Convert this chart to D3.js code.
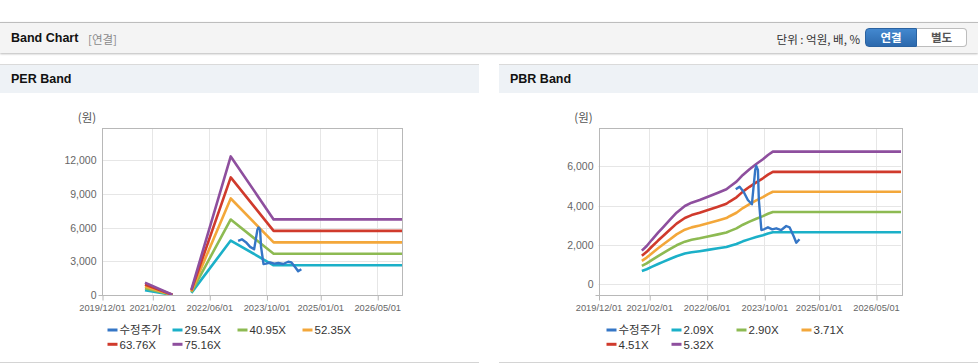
<!DOCTYPE html>
<html>
<head>
<meta charset="utf-8">
<script src="https://d3js.org/d3.v7.min.js"></script>
<style>
body { margin: 0; background: #fff; font-family: "Liberation Sans", Arial, "Noto Sans CJK KR", sans-serif; }
#page { position: relative; width: 978px; height: 364px; overflow: hidden; }
.topbar {
    position: absolute; left: 0; top: 22px; width: 978px; height: 30px;
    border-top: 1px solid #bdbdbd; background: #f4f4f4;
    box-shadow: 0 1px 2px rgba(0,0,0,0.28);
}
.topbar .title { position: absolute; left: 11px; top: 8px; font-size: 12.5px; font-weight: bold; color: #111; }
.topbar .sub { position: absolute; left: 88px; top: 8px; font-size: 11.5px; color: #8a8a8a; font-family: "Noto Sans CJK KR", sans-serif; line-height: 16px; }
.topbar .unit { position: absolute; right: 118px; top: 8px; font-size: 11.5px; color: #333; font-family: "Noto Sans CJK KR", sans-serif; line-height: 16px; }
.btn {
    position: absolute; top: 5px; height: 19px; width: 52px; box-sizing: border-box;
    font-size: 11.5px; font-weight: bold; text-align: center; line-height: 17px;
    font-family: "Noto Sans CJK KR", sans-serif;
}
.btn.on { left: 865px; background: linear-gradient(#4388cf, #2c69ad); color: #fff; border: 1px solid #2a62a0; border-radius: 4px 0 0 4px; }
.btn.off { left: 917px; width: 50px; background: #fff; color: #555; border: 1px solid #bdbdbd; border-left: none; border-radius: 0 4px 4px 0; }
.panel { position: absolute; top: 64px; height: 298px; border-bottom: 1px solid #d4d4d4; }
.panel .head { height: 28px; border-top: 1px solid #dadada; background: #eef2f6; position: relative; }
.panel .head span { position: absolute; left: 11px; top: 7px; font-size: 12.5px; font-weight: bold; color: #111; }
svg { position: absolute; left: 0; top: 0; }
</style>
</head>
<body>
<div id="page">
  <div class="topbar">
    <span class="title">Band Chart</span>
    <span class="sub">[연결]</span>
    <span class="unit">단위 : 억원, 배, %</span>
    <div class="btn on">연결</div>
    <div class="btn off">별도</div>
  </div>
  <div class="panel" style="left:0;width:479px"><div class="head"><span>PER Band</span></div></div>
  <div class="panel" style="left:499px;width:479px"><div class="head"><span>PBR Band</span></div></div>
  <svg id="chart" width="978" height="364"></svg>
</div>
<script>
// ---- data ----
const xTickLabels = ["2019/12/01", "2021/02/01", "2022/06/01", "2023/10/01", "2025/01/01", "2026/05/01"];
const xDomain = ["2019/12/01", "2026/11/28"];
const priceName = "수정주가";

const perMultiples = [29.54, 40.95, 52.35, 63.76, 75.16];
const pbrMultiples = [2.09, 2.90, 3.71, 4.51, 5.32];

// EPS (원) per date; null = negative earnings, no band
const perDates = ["2020/12/01", "2021/07/22", "2021/10/01", "2021/12/31", "2022/12/01", "2023/12/01", "2026/11/28"];
const perEps = [14.6, 0.3, null, 6.5, 164.3, 89.6, 89.6];

// BPS (원) per date
const pbrDates = ["2020/12/01", "2021/01/11", "2021/02/22", "2021/04/17", "2021/05/29", "2021/07/25", "2021/09/20",
    "2021/11/29", "2022/01/25", "2022/04/03", "2022/06/12", "2022/09/05", "2022/11/15", "2022/12/12", "2023/02/08",
    "2023/04/03", "2023/05/29", "2023/07/25", "2023/09/19", "2023/11/01", "2023/12/12", "2026/11/28"];
const pbrBps = [322, 366, 423, 493, 545, 615, 684, 748, 780, 806, 837, 875, 908, 933, 981, 1045, 1099, 1150, 1195,
    1236, 1268, 1268];

// adjusted share price
const priceDates = ["2023/02/02", "2023/03/06", "2023/04/09", "2023/05/15", "2023/06/18", "2023/07/16", "2023/07/25",
    "2023/08/08", "2023/08/16", "2023/09/06", "2023/09/28", "2023/11/01", "2023/12/07", "2024/01/10", "2024/02/21",
    "2024/04/03", "2024/05/01", "2024/06/04", "2024/06/27", "2024/07/24"];
const priceValues = [4830, 4963, 4708, 4286, 4068, 5812, 6015, 5812, 4286, 2760, 2797, 2898, 2797, 2847, 2760,
    2964, 2898, 2456, 2115, 2288];

const perYTicks = [0, 3000, 6000, 9000, 12000];
const pbrYTicks = [0, 2000, 4000, 6000];

const colors = ["#3576c6", "#1bb0c8", "#8dba52", "#f3a73a", "#d03a2c", "#8e4f9e"];

const parse = d3.timeParse("%Y/%m/%d");
const svg = d3.select("#chart");

function drawBand(opt) {
    const x = d3.scaleTime().domain(xDomain.map(parse)).range([opt.left, opt.right]);
    const y = d3.scaleLinear().domain(opt.yDomain).range([opt.bottom, opt.top]);
    const g = svg.append("g");
    const crisp = v => Math.round(v) + 0.5;

    // grid
    g.append("g").selectAll("line").data(opt.yTicks).join("line")
        .attr("x1", opt.left).attr("x2", opt.right)
        .attr("y1", d => crisp(y(d))).attr("y2", d => crisp(y(d)))
        .attr("stroke", "#e6e6e6");
    g.append("g").selectAll("line").data(xTickLabels).join("line")
        .attr("x1", d => crisp(x(parse(d)))).attr("x2", d => crisp(x(parse(d))))
        .attr("y1", opt.top).attr("y2", opt.bottom)
        .attr("stroke", "#e6e6e6");

    // axes
    const yAxis = d3.axisLeft(y).tickValues(opt.yTicks).tickSize(0).tickPadding(6).tickFormat(d3.format(","));
    const ya = g.append("g").attr("transform", `translate(${crisp(opt.left)},0)`).call(yAxis);
    ya.select(".domain").remove();
    ya.selectAll("text").attr("fill", "#666").style("font-size", "10.5px").style("font-family", "Liberation Sans, Arial");

    const xAxis = d3.axisBottom(x).tickValues(xTickLabels.map(parse)).tickSize(5).tickPadding(4)
        .tickFormat(d3.timeFormat("%Y/%m/%d"));
    const xa = g.append("g").attr("transform", `translate(0,${crisp(opt.bottom)})`).call(xAxis);
    xa.select(".domain").remove();
    xa.selectAll("line").attr("stroke", "#b5b5b5").attr("transform", "translate(0.5,0)");
    xa.selectAll("text").attr("fill", "#666").style("font-size", "9.3px").style("font-family", "Liberation Sans, Arial");

    g.append("rect")
        .attr("x", crisp(opt.left)).attr("y", crisp(opt.top))
        .attr("width", Math.round(opt.right - opt.left)).attr("height", Math.round(opt.bottom - opt.top))
        .attr("fill", "none").attr("stroke", "#b8b8b8");
    g.append("line")
        .attr("x1", crisp(opt.left) - 4).attr("x2", crisp(opt.left))
        .attr("y1", crisp(opt.bottom)).attr("y2", crisp(opt.bottom))
        .attr("stroke", "#b8b8b8");

    g.append("text")
        .attr("x", opt.left - 15).attr("y", opt.top - 6)
        .attr("text-anchor", "middle").attr("fill", "#555")
        .style("font-size", "11.5px").style("font-family", "Noto Sans CJK KR")
        .text("(원)");

    // lines
    const clipId = "clip" + opt.key;
    svg.append("clipPath").attr("id", clipId).append("rect")
        .attr("x", opt.left).attr("y", opt.top).attr("width", opt.right - opt.left).attr("height", opt.bottom - opt.top);
    const lines = g.append("g").attr("clip-path", `url(#${clipId})`);
    const line = d3.line().defined(d => d[1] != null).x(d => x(d[0])).y(d => y(d[1]));

    opt.multiples.forEach((m, i) => {
        const pts = opt.dates.map((d, j) => [parse(d), opt.base[j] == null ? null : opt.base[j] * m]);
        lines.append("path").datum(pts)
            .attr("d", line).attr("fill", "none")
            .attr("stroke", colors[i + 1]).attr("stroke-width", 2.6)
            .attr("stroke-linejoin", "round");
    });
    const pricePts = priceDates.map((d, j) => [parse(d), priceValues[j]]);
    lines.append("path").datum(pricePts)
        .attr("d", line).attr("fill", "none")
        .attr("stroke", colors[0]).attr("stroke-width", 2.4)
        .attr("stroke-linejoin", "round");

    // legend
    const names = [priceName].concat(opt.multiples.map(m => d3.format(".2f")(m) + "X"));
    const lg = g.append("g");
    names.forEach((n, i) => {
        const col = i % 4, row = Math.floor(i / 4);
        const lx = opt.legendX + col * 65, ly = 330 + row * 14.3;
        lg.append("line").attr("x1", lx).attr("x2", lx + 10).attr("y1", ly).attr("y2", ly)
            .attr("stroke", colors[i]).attr("stroke-width", 3);
        lg.append("text").attr("x", lx + 12).attr("y", ly + 4.2)
            .attr("fill", "#333").style("font-size", "11.5px")
            .style("font-family", "Liberation Sans, Arial, Noto Sans CJK KR")
            .text(n);
    });
}

drawBand({
    key: "per", left: 102, right: 402, top: 128, bottom: 295,
    yDomain: [0, 14880], yTicks: perYTicks,
    multiples: perMultiples, dates: perDates, base: perEps, legendX: 107.5
});
drawBand({
    key: "pbr", left: 598.5, right: 901, top: 128.3, bottom: 295,
    yDomain: [-544, 7932], yTicks: pbrYTicks,
    multiples: pbrMultiples, dates: pbrDates, base: pbrBps, legendX: 606.5
});
</script>
</body>
</html>
